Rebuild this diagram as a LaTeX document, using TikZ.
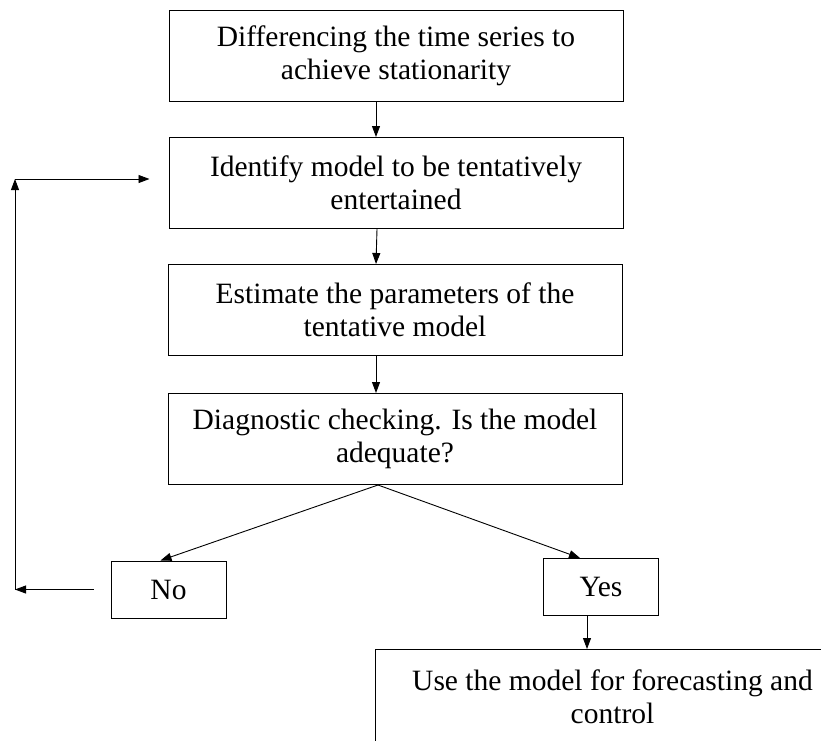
\documentclass[tikz,border=0pt]{standalone}
\usepackage{fontspec}
\newfontfamily\timesfont{Liberation Serif}
\usetikzlibrary{arrows.meta}

\begin{document}
\begin{tikzpicture}[x=1pt,y=-1pt,
    box/.style={draw,line width=1pt,inner sep=0pt,align=center,font=\timesfont\fontsize{29.5}{33}\selectfont},
    step box/.style={box,minimum width=454pt,minimum height=91pt},
    answer/.style={box,minimum width=115pt,minimum height=57pt},
    arr/.style={line width=0.9pt,-{Triangle[length=11pt,width=8pt]}}]
      \useasboundingbox (0,0) rectangle (821,740);
      \clip (0,0) rectangle (821,740);
      % main chain
      \node[step box](diff) at (396,55.5) {Differencing the time series to\\achieve stationarity};
      \node[step box](ident) at (396,183) {Identify model to be tentatively\\entertained};
      \node[step box](estim) at (395,310) {Estimate the parameters of the\\tentative model};
      \node[step box](diag) at (395,439) {Diagnostic checking. Is the model\\adequate?};
      % answers
      \node[answer](no) at (168.5,589.5) {No};
      \node[answer](yes) at (601,587) {Yes};
      \node[box,minimum width=474pt,minimum height=95pt,anchor=north west](use) at (375,649) {Use the model for forecasting and\\control};
      \coordinate (loopdown) at (15,589.5);
      \coordinate (loopup) at (15,179);
      % arrows
      \draw[arr] ([xshift=-20pt]diff.south) -- ([xshift=-20pt]ident.north);
      \draw[arr] ([xshift=-19pt]ident.south) -- ([xshift=-19pt]estim.north);
      \draw[arr] ([xshift=-19pt]estim.south) -- ([xshift=-19pt]diag.north);
      \draw[arr] ([xshift=-17pt]diag.south) -- ([xshift=-8pt]no.north);
      \draw[arr] ([xshift=-17pt]diag.south) -- ([xshift=-21pt]yes.north);
      \draw[arr] ([xshift=-14pt]yes.south) -- ([xshift=-14pt]yes.south |- use.north);
      % back to identification
      \draw[arr] ([xshift=-17pt]no.west) -- (loopdown);
      \draw[arr] (loopdown) -- (loopup);
      \draw[arr] (loopup) -- ([xshift=-19pt]ident.west |- loopup);
\end{tikzpicture}
\end{document}
